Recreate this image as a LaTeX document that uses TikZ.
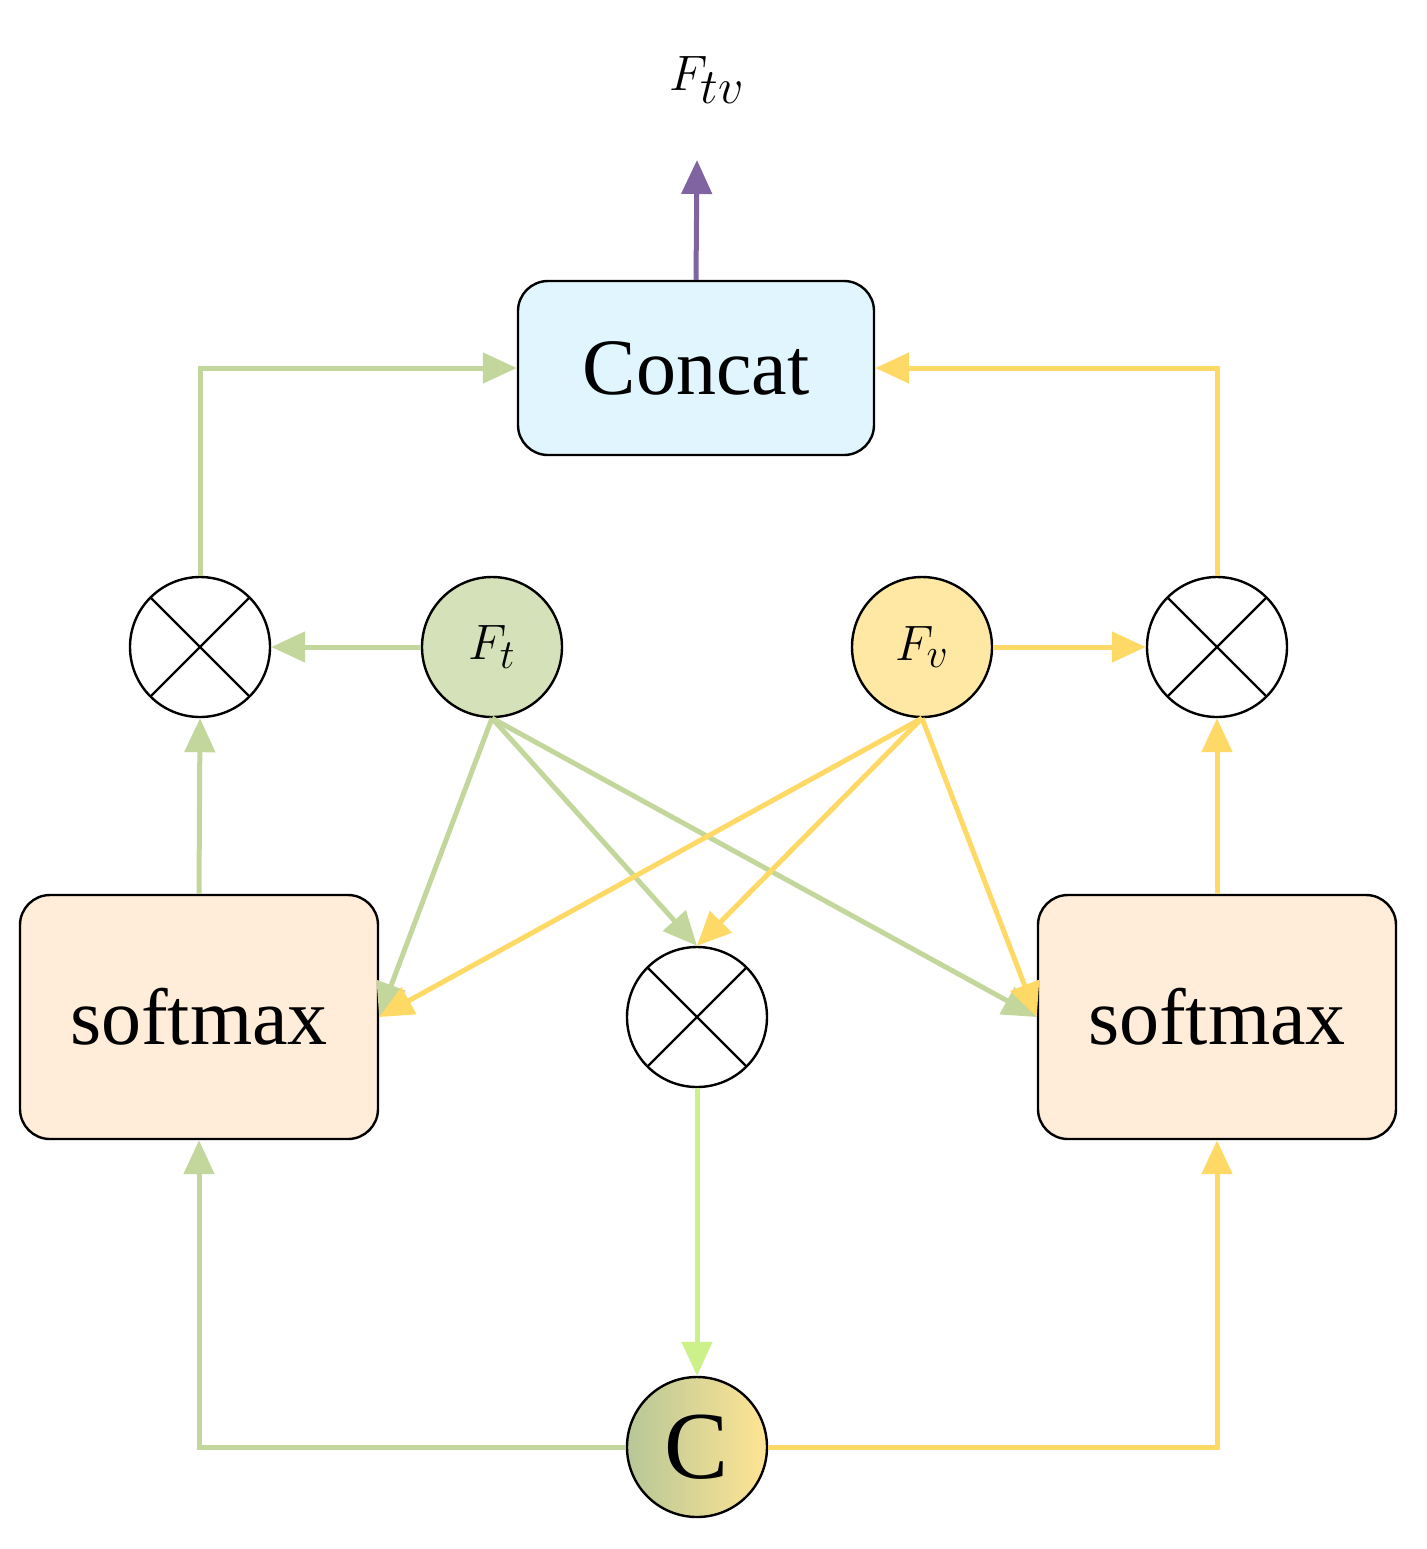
\documentclass[tikz,border=0pt]{standalone}
\usepackage{fontspec}
\setmainfont{Liberation Serif}
\usetikzlibrary{arrows.meta}
\definecolor{gr}{HTML}{C3D69B}
\definecolor{ye}{HTML}{FFD966}
\definecolor{lg}{HTML}{CCF08A}
\definecolor{pu}{HTML}{8064A2}
\begin{document}
\begin{tikzpicture}[x=0.5pt,y=-0.5pt,
 box/.style={draw,line width=1.2pt,rounded corners=15pt,inner sep=0},
 circ/.style={draw,circle,line width=1.2pt,minimum size=70pt,inner sep=0},
 ot/.style={circ,path picture={\draw[line width=1.2pt] (path picture bounding box.south west)--(path picture bounding box.north east) (path picture bounding box.north west)--(path picture bounding box.south east);}},
 con/.style={line width=2.5pt,-{Triangle[length=17pt,width=15pt]}},
 every node/.append style={font=\fontsize{40}{40}\selectfont}]
\useasboundingbox (0,0) rectangle (1426,1549);
\node (ftv) at (707,80) {\fontsize{46}{46}\selectfont$F_{tv}$};
\node[box,fill=cyan!12!white,minimum width=178pt,minimum height=87pt] (concat) at (696,368) {Concat};
\node[ot] (ol) at (200,647) {};
\node[ot] (or) at (1217,647) {};
\node[ot] (oc) at (697,1017) {};
\node[circ,fill=gr!70!white] (ft) at (492,647) {\fontsize{30}{30}\selectfont$F_t$};
\node[circ,fill=ye!60!white] (fv) at (922,647) {\fontsize{30}{30}\selectfont$F_v$};
\node[box,fill=orange!15!white,minimum width=179pt,minimum height=122pt] (sl) at (199,1017) {softmax};
\node[box,fill=orange!15!white,minimum width=179pt,minimum height=122pt] (sr) at (1217,1017) {softmax};
\node[circ,left color=gr!90!black!90,right color=ye!70!white] (c) at (697,1447) {\fontsize{48}{48}\selectfont C};
\draw[con,pu] (concat.north) -- (697,160) coordinate (top);
\draw[con,gr] (ol.north) |- (concat.west);
\draw[con,ye] (or.north) |- (concat.east);
\draw[con,gr] (ft.west) -- (ol.east);
\draw[con,ye] (fv.east) -- (or.west);
\draw[con,gr] (sl.north) -- (ol.south);
\draw[con,ye] (sr.north) -- (or.south);
\draw[con,gr] (ft.south) -- (sl.east);
\draw[con,gr] (ft.south) -- (oc.north);
\draw[con,gr] (ft.south) -- (sr.west);
\draw[con,ye] (fv.south) -- (sl.east);
\draw[con,ye] (fv.south) -- (oc.north);
\draw[con,ye] (fv.south) -- (sr.west);
\draw[con,lg] (oc.south) -- (c.north);
\draw[con,gr] (c.west) -| (sl.south);
\draw[con,ye] (c.east) -| (sr.south);
\end{tikzpicture}
\end{document}
